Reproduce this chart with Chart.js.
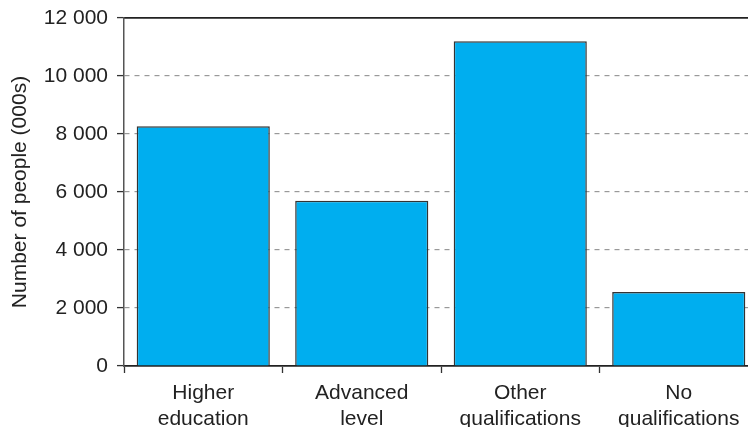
<!DOCTYPE html>
<html>
<head>
<meta charset="utf-8">
<script src="https://cdn.jsdelivr.net/npm/chart.js@4"></script>
<style>
html,body{margin:0;padding:0;background:#fff;overflow:hidden;width:748px;height:427px;}
#wrap{position:absolute;left:0;top:0;width:760px;height:427px;}
</style>
</head>
<body>
<div id="wrap"><canvas id="c"></canvas></div>
<script>
const categories = [['Higher','education'],['Advanced','level'],['Other','qualifications'],['No','qualifications']];
const values = [8270, 5700, 11200, 2550];
const yTicks = [0, 2000, 4000, 6000, 8000, 10000, 12000];
const yTitle = 'Number of people (000s)';

Chart.defaults.font.family = '"Liberation Sans", Arial, Helvetica, sans-serif';
Chart.defaults.font.size = 21;
Chart.defaults.color = '#222';

function fmt(v){ return String(v).replace(/\B(?=(\d{3})+(?!\d))/g, ' '); }

new Chart(document.getElementById('c'), {
  type: 'bar',
  data: {
    labels: categories,
    datasets: [{
      data: values,
      backgroundColor: '#00AEEF',
      borderColor: '#333',
      borderWidth: 1.5,
      barPercentage: 0.84,
      categoryPercentage: 1.0
    }]
  },
  options: {
    responsive: true,
    maintainAspectRatio: false,
    animation: false,
    layout: { padding: { left: 0, right: 2, top: 0, bottom: 0 } },
    plugins: { legend: { display: false }, tooltip: { enabled: false } },
    scales: {
      x: {
        position: 'bottom',
        grid: { display: true, drawOnChartArea: false, drawTicks: true, tickLength: 7, tickColor: '#333', tickWidth: 1.3, offset: true },
        border: { display: true, color: '#222', width: 1.8 },
        ticks: { maxRotation: 0, autoSkip: false, padding: 8, color: '#222' },
        afterFit: s => { s.height = 61; }
      },
      x2: {
        position: 'top',
        type: 'category',
        labels: categories,
        grid: { display: false, drawTicks: false },
        border: { display: true, color: '#222', width: 1.8 },
        ticks: { display: false },
        afterFit: s => { s.height = 18; }
      },
      y: {
        min: 0, max: 12000,
        afterBuildTicks: s => { s.ticks = yTicks.map(v => ({ value: v })); },
        ticks: { callback: v => fmt(v), padding: 9, color: '#222' },
        grid: {
          drawTicks: true, tickLength: 7, tickColor: '#333', tickWidth: 1.3,
          color: ctx => (ctx.tick && (ctx.tick.value === 0 || ctx.tick.value === 12000)) ? 'rgba(0,0,0,0)' : '#999',
          lineWidth: 1.2
        },
        border: { display: true, color: '#555', width: 1.5, dash: [5, 5] },
        title: { display: true, text: yTitle, color: '#222', font: { size: 21 }, padding: { top: 8, bottom: 0 } },
        afterFit: s => { s.width = 124; s.paddingTop = 0; s.paddingBottom = 0; }
      }
    }
  }
});
</script>
</body>
</html>
